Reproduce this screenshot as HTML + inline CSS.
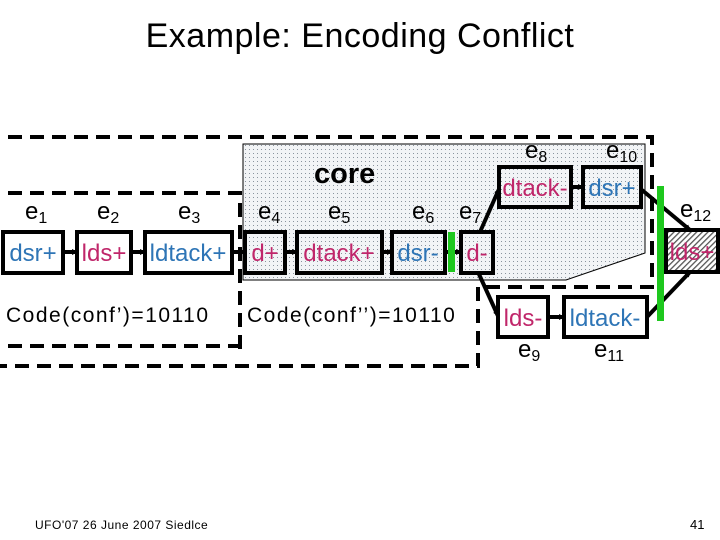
<!DOCTYPE html>
<html><head><style>body{margin:0;background:#fff}svg{display:block}text{font-family:"Liberation Sans",Arial,sans-serif}</style></head><body>
<svg width="720" height="540" viewBox="0 0 720 540" xmlns="http://www.w3.org/2000/svg">
<defs>
<pattern id="dots" width="4" height="4" patternUnits="userSpaceOnUse"><rect width="4" height="4" fill="#f2f4f6"/><rect x="1" y="1" width="1" height="1" fill="#8a949e"/></pattern>
<pattern id="hatch" width="4" height="4" patternUnits="userSpaceOnUse" patternTransform="rotate(45)"><rect width="4" height="4" fill="#fff"/><rect width="1.3" height="4" fill="#555"/></pattern>
<marker id="ah" markerWidth="6" markerHeight="6" refX="5" refY="3" orient="auto" markerUnits="userSpaceOnUse"><path d="M0,0 L6,3 L0,6z" fill="#000"/></marker>
</defs>
<text x="360" y="47" font-size="34" text-anchor="middle" letter-spacing="0.5">Example: Encoding Conflict</text>
<polygon points="243,144 645,144 645,253 566,280 243,280" fill="url(#dots)" stroke="#000" stroke-width="1"/>
<g fill="none" stroke="#000" stroke-width="4" stroke-dasharray="14,8">
<polyline points="8,137 652,137 652,287 478,287 478,366 0,366"/>
<polyline points="8,193 240,193 240,349"/>
<line x1="8" y1="346" x2="240" y2="346"/>
</g>
<text x="314" y="183" font-size="29" font-weight="bold">core</text>
<g stroke="#000" stroke-width="4" fill="none">
<line x1="63" y1="252" x2="77" y2="252" marker-end="url(#ah)"/>
<line x1="131" y1="252" x2="145" y2="252" marker-end="url(#ah)"/>
<line x1="232" y1="252" x2="245" y2="252" marker-end="url(#ah)"/>
<line x1="285" y1="252" x2="297" y2="252" marker-end="url(#ah)"/>
<line x1="382" y1="252" x2="392" y2="252" marker-end="url(#ah)"/>
<line x1="445" y1="252" x2="461" y2="252" marker-end="url(#ah)"/>
<line x1="480" y1="232" x2="499" y2="189" marker-end="url(#ah)"/>
<line x1="478" y1="272" x2="498" y2="316" marker-end="url(#ah)"/>
<line x1="571" y1="187" x2="583" y2="187" marker-end="url(#ah)"/>
<line x1="548" y1="317" x2="564" y2="317" marker-end="url(#ah)"/>
<line x1="642" y1="190" x2="690" y2="230" marker-end="url(#ah)"/>
<line x1="647" y1="317" x2="690" y2="272" marker-end="url(#ah)"/>
</g>
<g stroke="#000" stroke-width="4" fill="#fff">
<rect x="3" y="232" width="60" height="41"/>
<rect x="77" y="232" width="54" height="41"/>
<rect x="145" y="232" width="87" height="41"/>
<rect x="245" y="232" width="40" height="41" fill="url(#dots)"/>
<rect x="297" y="232" width="85" height="41" fill="url(#dots)"/>
<rect x="392" y="232" width="53" height="41" fill="url(#dots)"/>
<rect x="461" y="232" width="32" height="41" fill="url(#dots)"/>
<rect x="499" y="167" width="72" height="40" fill="url(#dots)"/>
<rect x="583" y="167" width="58" height="40" fill="url(#dots)"/>
<rect x="666" y="230" width="52" height="42" fill="url(#hatch)"/>
<rect x="498" y="297" width="50" height="40"/>
<rect x="564" y="297" width="83" height="40"/>
</g>
<rect x="448" y="232" width="7" height="40" fill="#1ec81e"/>
<rect x="657" y="186" width="7" height="135" fill="#1ec81e"/>
<g font-size="24" text-anchor="middle">
<text x="33" y="261" fill="#2e75b6">dsr+</text>
<text x="104" y="261" fill="#c0266a">lds+</text>
<text x="188" y="261" fill="#2e75b6">ldtack+</text>
<text x="265" y="261" fill="#c0266a">d+</text>
<text x="339" y="261" fill="#c0266a">dtack+</text>
<text x="418" y="261" fill="#2e75b6">dsr-</text>
<text x="477" y="261" fill="#c0266a">d-</text>
<text x="535" y="196" fill="#c0266a">dtack-</text>
<text x="612" y="196" fill="#2e75b6">dsr+</text>
<text x="692" y="260" fill="#c0266a">lds+</text>
<text x="523" y="326" fill="#c0266a">lds-</text>
<text x="605" y="326" fill="#2e75b6">ldtack-</text>
</g>
<g font-size="24">
<text x="25" y="219">e<tspan font-size="16" dy="4">1</tspan></text>
<text x="97" y="219">e<tspan font-size="16" dy="4">2</tspan></text>
<text x="178" y="219">e<tspan font-size="16" dy="4">3</tspan></text>
<text x="258" y="219">e<tspan font-size="16" dy="4">4</tspan></text>
<text x="328" y="219">e<tspan font-size="16" dy="4">5</tspan></text>
<text x="412" y="219">e<tspan font-size="16" dy="4">6</tspan></text>
<text x="459" y="219">e<tspan font-size="16" dy="4">7</tspan></text>
<text x="525" y="158">e<tspan font-size="16" dy="4">8</tspan></text>
<text x="606" y="158">e<tspan font-size="16" dy="4">10</tspan></text>
<text x="680" y="217">e<tspan font-size="16" dy="4">12</tspan></text>
<text x="518" y="357">e<tspan font-size="16" dy="4">9</tspan></text>
<text x="594" y="357">e<tspan font-size="16" dy="4">11</tspan></text>
</g>
<text x="6" y="322" font-size="21" letter-spacing="1.5">Code(conf’)=10110</text>
<text x="247" y="322" font-size="21" letter-spacing="1.5">Code(conf’’)=10110</text>
<text x="35" y="529" font-size="12" letter-spacing="0.5">UFO'07 26 June 2007 Siedlce</text>
<text x="690" y="529" font-size="13">41</text>
</svg>
</body></html>
